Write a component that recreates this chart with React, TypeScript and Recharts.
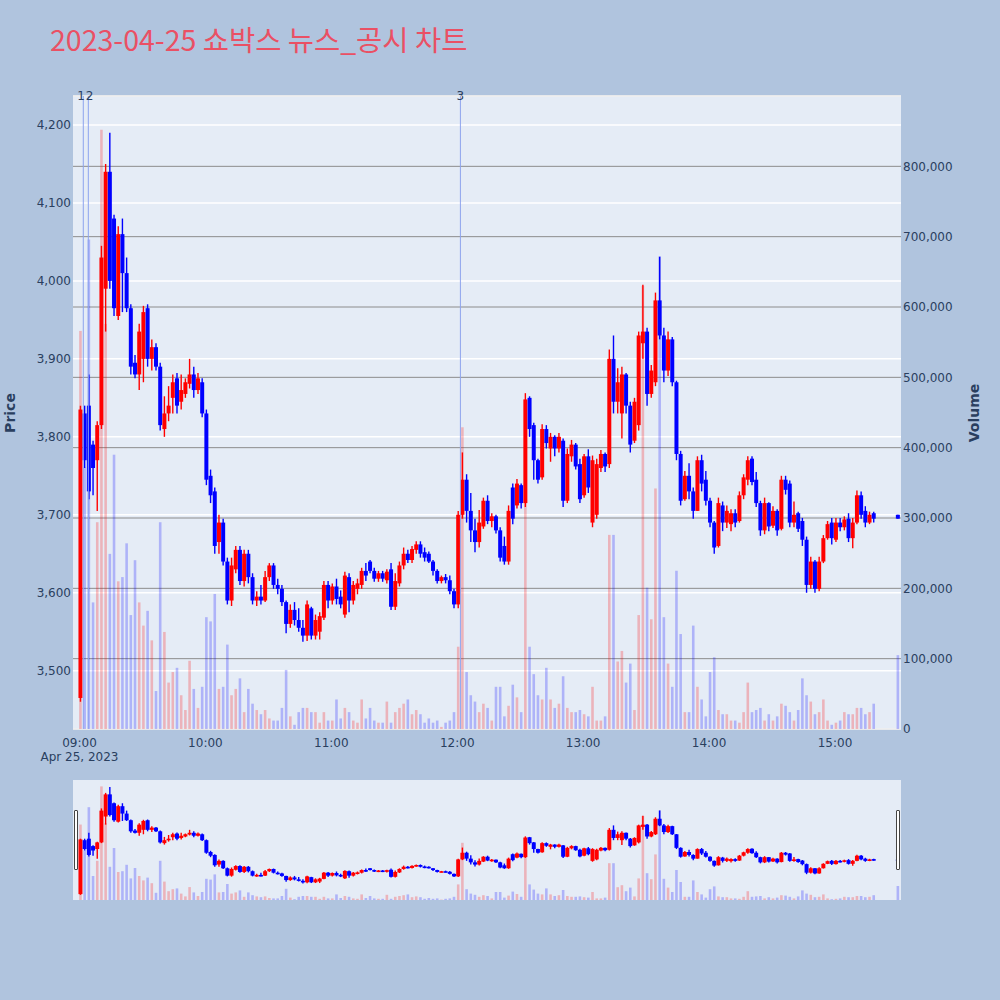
import React from 'react';
import { ComposedChart, Bar, XAxis, YAxis, CartesianGrid, ReferenceLine } from 'recharts';

// ---- Data (2-minute candles, last one = 15:30 closing auction) ----
const opens = [
  3465, 3830, 3840, 3790, 3770, 3815, 3990, 4140, 4080, 3955,
  4060, 4010, 3965, 3895, 3880, 3900, 3965, 3900, 3915, 3890,
  3810, 3830, 3850, 3875, 3845, 3855, 3868, 3880, 3860, 3870,
  3830, 3750, 3730, 3665, 3690, 3640, 3590, 3630, 3655, 3615,
  3650, 3620, 3590, 3595, 3590, 3620, 3635, 3610, 3605, 3588,
  3560, 3578, 3565, 3555, 3545, 3580, 3545, 3550, 3568, 3610,
  3590, 3608, 3595, 3572, 3620, 3590, 3605, 3610, 3628, 3640,
  3628, 3618, 3625, 3616, 3630, 3582, 3612, 3635, 3650, 3642,
  3655, 3662, 3652, 3650, 3640, 3628, 3615, 3620, 3616, 3602,
  3585, 3700, 3745, 3705, 3680, 3665, 3685, 3718, 3692, 3698,
  3680, 3660, 3640, 3735, 3712, 3738, 3715, 3850, 3815, 3770,
  3748, 3810, 3785, 3800, 3785, 3795, 3718, 3775, 3790, 3765,
  3725, 3775, 3690, 3700, 3760, 3778, 3765, 3900, 3845, 3830,
  3880, 3840, 3795, 3815, 3920, 3935, 3855, 3870, 3975, 3930,
  3885, 3925, 3870, 3778, 3720, 3750, 3730, 3705, 3770, 3745,
  3718, 3690, 3660, 3712, 3690, 3688, 3702, 3692, 3725, 3745,
  3772, 3745, 3715, 3680, 3715, 3686, 3705, 3682, 3745, 3740,
  3690, 3702, 3692, 3668, 3610, 3640, 3605, 3640, 3670, 3690,
  3668, 3690, 3684, 3695, 3670, 3690, 3725, 3705, 3690, 3702,
  3700,
];
const highs = [
  3840, 3840, 3880, 3795, 3820, 4045, 4150, 4190, 4085, 4070,
  4080, 4030, 3970, 3905, 3945, 3968, 3970, 3925, 3920, 3895,
  3852, 3865, 3880, 3882, 3880, 3875, 3900, 3890, 3882, 3875,
  3835, 3758, 3735, 3700, 3695, 3645, 3645, 3660, 3660, 3655,
  3655, 3625, 3602, 3610, 3628, 3638, 3638, 3618, 3610, 3590,
  3585, 3588, 3580, 3565, 3590, 3582, 3572, 3575, 3615, 3615,
  3612, 3618, 3603, 3627, 3625, 3615, 3618, 3632, 3638, 3642,
  3632, 3628, 3628, 3630, 3638, 3625, 3640, 3658, 3655, 3660,
  3666, 3666, 3658, 3653, 3642, 3630, 3622, 3624, 3622, 3605,
  3705, 3780, 3752, 3728, 3695, 3706, 3722, 3725, 3702, 3700,
  3684, 3672, 3712, 3740, 3746, 3740, 3856, 3852, 3818, 3772,
  3816, 3815, 3805, 3802, 3805, 3798, 3785, 3796, 3792, 3772,
  3778, 3784, 3776, 3772, 3783, 3780, 3912, 3930, 3888, 3890,
  3882, 3845, 3850, 3935, 3995, 3940, 3892, 3985, 4031, 3940,
  3935, 3928, 3872, 3782, 3756, 3766, 3735, 3775, 3777, 3756,
  3722, 3692, 3722, 3717, 3712, 3707, 3707, 3730, 3752, 3775,
  3775, 3755, 3718, 3722, 3716, 3711, 3707, 3750, 3750, 3744,
  3717, 3704, 3696, 3672, 3646, 3642, 3646, 3674, 3692, 3696,
  3696, 3696, 3698, 3702, 3696, 3731, 3730, 3711, 3704, 3704,
  3700,
];
const lows = [
  3460, 3760, 3720, 3725, 3705, 3810, 3935, 3990, 3955, 3950,
  3960, 3960, 3880, 3875, 3860, 3870, 3890, 3885, 3885, 3808,
  3800, 3820, 3830, 3830, 3835, 3850, 3862, 3850, 3855, 3825,
  3738, 3715, 3650, 3650, 3635, 3585, 3583, 3625, 3610, 3608,
  3612, 3585, 3583, 3585, 3588, 3615, 3605, 3598, 3583, 3548,
  3555, 3558, 3550, 3537, 3538, 3540, 3540, 3540, 3565, 3580,
  3585, 3585, 3580, 3568, 3575, 3585, 3598, 3605, 3615, 3625,
  3614, 3614, 3614, 3612, 3578, 3578, 3608, 3630, 3638, 3638,
  3650, 3645, 3640, 3638, 3622, 3612, 3612, 3612, 3598, 3580,
  3580, 3695, 3690, 3665, 3652, 3658, 3682, 3688, 3684, 3676,
  3640, 3636, 3636, 3688, 3708, 3708, 3710, 3800, 3745, 3740,
  3745, 3785, 3768, 3775, 3780, 3710, 3715, 3768, 3758, 3715,
  3722, 3728, 3684, 3695, 3755, 3755, 3760, 3830, 3830, 3798,
  3830, 3780, 3792, 3808, 3900, 3840, 3850, 3865, 3925, 3870,
  3878, 3865, 3770, 3712, 3718, 3720, 3695, 3705, 3730, 3712,
  3684, 3650, 3658, 3679, 3683, 3679, 3684, 3690, 3720, 3738,
  3738, 3710, 3673, 3675, 3679, 3683, 3673, 3680, 3726, 3684,
  3684, 3678, 3660, 3600, 3605, 3600, 3602, 3638, 3668, 3662,
  3665, 3679, 3680, 3665, 3657, 3688, 3695, 3684, 3688, 3690,
  3695,
];
const closes = [
  3835, 3770, 3730, 3760, 3815, 4030, 4140, 4000, 3965, 4060,
  4010, 3965, 3890, 3880, 3935, 3960, 3900, 3915, 3890, 3815,
  3830, 3840, 3870, 3840, 3860, 3870, 3880, 3860, 3875, 3830,
  3745, 3725, 3660, 3690, 3640, 3590, 3635, 3655, 3615, 3650,
  3620, 3590, 3595, 3590, 3620, 3635, 3610, 3605, 3588, 3560,
  3578, 3565, 3555, 3545, 3585, 3545, 3565, 3570, 3610, 3590,
  3608, 3592, 3585, 3622, 3590, 3610, 3612, 3628, 3622, 3628,
  3618, 3625, 3618, 3627, 3582, 3615, 3635, 3650, 3642, 3656,
  3662, 3650, 3645, 3640, 3628, 3615, 3620, 3616, 3602, 3585,
  3700, 3745, 3705, 3680, 3665, 3690, 3718, 3692, 3698, 3680,
  3645, 3640, 3705, 3695, 3740, 3715, 3848, 3810, 3770, 3745,
  3810, 3792, 3800, 3785, 3800, 3718, 3778, 3790, 3762, 3720,
  3775, 3735, 3770, 3765, 3778, 3762, 3900, 3845, 3870, 3880,
  3840, 3790, 3845, 3930, 3935, 3855, 3885, 3975, 3930, 3885,
  3925, 3870, 3778, 3718, 3750, 3730, 3705, 3770, 3740, 3718,
  3690, 3658, 3715, 3690, 3705, 3702, 3690, 3725, 3748, 3770,
  3742, 3715, 3680, 3715, 3685, 3705, 3680, 3745, 3732, 3690,
  3700, 3682, 3668, 3610, 3640, 3605, 3640, 3670, 3688, 3670,
  3690, 3684, 3694, 3670, 3690, 3725, 3700, 3690, 3700, 3695,
  3695,
];
// volume in thousands of shares
const volumeK = [
  566, 372, 696, 180, 294, 852, 576, 249, 390, 210,
  216, 264, 162, 240, 180, 147, 168, 126, 54, 294,
  138, 66, 81, 87, 48, 27, 97, 57, 30, 60,
  159, 153, 192, 57, 60, 120, 48, 57, 72, 24,
  57, 36, 27, 21, 27, 15, 12, 12, 30, 84,
  18, 6, 24, 30, 30, 24, 24, 9, 24, 12,
  12, 42, 15, 30, 24, 12, 9, 42, 15, 30,
  12, 9, 9, 39, 9, 24, 30, 36, 42, 21,
  27, 21, 9, 15, 9, 12, 3, 9, 12, 24,
  117, 429, 81, 48, 39, 24, 36, 30, 12, 60,
  60, 18, 33, 63, 45, 24, 324, 117, 78, 48,
  42, 87, 42, 30, 36, 75, 30, 24, 24, 27,
  21, 18, 60, 12, 12, 18, 276, 276, 96, 111,
  66, 93, 27, 162, 630, 201, 156, 342, 672, 159,
  93, 60, 225, 135, 24, 24, 147, 60, 42, 18,
  81, 102, 27, 21, 21, 12, 12, 9, 24, 66,
  24, 27, 30, 12, 21, 12, 18, 36, 33, 24,
  12, 27, 72, 48, 39, 21, 24, 42, 12, 6,
  9, 12, 24, 21, 21, 30, 30, 21, 24, 36,
  105,
];

// time axis: minutes after 09:00
const BUCKET_MINUTES = 2;
const CLOSING_AUCTION_MINUTE = 390;
const timeTicks = [0, 60, 120, 180, 240, 300, 360];
const timeTickLabels = ['09:00', '10:00', '11:00', '12:00', '13:00', '14:00', '15:00'];
const dateLabel = 'Apr 25, 2023';

const priceTicks = [3500, 3600, 3700, 3800, 3900, 4000, 4100, 4200];
const volumeTicksK = [0, 100, 200, 300, 400, 500, 600, 700, 800];
const volumeTickLabels = ['0', '100,000', '200,000', '300,000', '400,000', '500,000', '600,000', '700,000', '800,000'];

const newsMinutes = [1.8, 4.2, 181.5];
const newsLabels = ['1', '2', '3'];
// labels 1 and 2 sit side by side ("12"), so they are anchored away from each other
const newsLabelAnchors = ['end', 'start', 'middle'];

const titleText = '2023-04-25 쇼박스 뉴스_공시 차트';

// ---- styling ----
const X_DOMAIN: [number, number] = [-3.1, 391.45];
const PRICE_DOMAIN: [number, number] = [3425.2, 4237.2];
const VOL_DOMAIN: [number, number] = [0, 900];
const RED = '#ff0000';
const BLUE = '#0000ff';
const TICK = '#2a3f5f';
const PLOT_BG = '#E5ECF6';
const PAGE_BG = '#B0C4DE';
const FONT = "'DejaVu Sans', Verdana, sans-serif";

const rows = opens.map((o, i) => {
  const isClose = i === opens.length - 1;
  return {
    t: isClose ? CLOSING_AUCTION_MINUTE : i * BUCKET_MINUTES + 0.5,
    open: o,
    high: highs[i],
    low: lows[i],
    close: closes[i],
    vol: volumeK[i],
    range: [lows[i], highs[i]],
  };
});

function CandleShape(props: any) {
  const { x, y, width, height } = props;
  const p = props.payload || props;
  if (x == null || y == null) return null;
  const top = Math.min(y, y + height);
  const bot = Math.max(y, y + height);
  const k = (bot - top) / (p.high - p.low || 1);
  const cx = x + width / 2;
  const yO = top + (p.high - p.open) * k;
  const yC = top + (p.high - p.close) * k;
  const color = p.close >= p.open ? RED : BLUE;
  const bTop = Math.min(yO, yC);
  const bH = Math.max(Math.abs(yO - yC), 1.6);
  return (
    <g>
      <line x1={cx} x2={cx} y1={top} y2={bot} stroke={color} strokeWidth={1.4} />
      <rect x={cx - 2} y={bTop} width={4} height={bH} fill={color} />
    </g>
  );
}

function VolumeShape(props: any) {
  const { x, y, width, height } = props;
  const p = props.payload || props;
  if (x == null || y == null) return null;
  const top = Math.min(y, y + height);
  const h = Math.abs(height);
  const cx = x + width / 2;
  const color = p.close >= p.open ? RED : BLUE;
  return <rect x={cx - 1.3} y={top} width={2.6} height={h} fill={color} fillOpacity={0.24} />;
}

function TimeTick(props: any) {
  const { x, y, payload } = props;
  const idx = timeTicks.indexOf(payload.value);
  return (
    <g>
      <text x={x} y={y + 18} textAnchor="middle" fill={TICK} fontSize={12} fontFamily={FONT}>
        {timeTickLabels[idx]}
      </text>
      {idx === 0 && (
        <text x={x} y={y + 31.5} textAnchor="middle" fill={TICK} fontSize={12} fontFamily={FONT}>
          {dateLabel}
        </text>
      )}
    </g>
  );
}

function NewsLabel(props: any) {
  const vb = props.viewBox || {};
  const anchor = props.anchor || 'middle';
  const dx = anchor === 'end' ? 1.6 : anchor === 'start' ? -2.6 : 0;
  return (
    <text x={(vb.x || 0) + dx} y={(vb.y || 0) + 4} textAnchor={anchor} fill={TICK} fontSize={12} fontFamily={FONT}>
      {props.text}
    </text>
  );
}

export default function App() {
  return (
    <div
      style={{
        position: 'absolute',
        left: 0,
        top: 0,
        width: 1000,
        height: 1000,
        background: PAGE_BG,
        overflow: 'hidden',
        fontFamily: FONT,
      }}
    >
      {/* range slider (drawn first so the main chart's date label stays visible) */}
      <div style={{ position: 'absolute', left: 73, top: 780, width: 828, height: 120, background: PLOT_BG }}>
        <ComposedChart width={828} height={120} data={rows} margin={{ top: 0, right: 0, bottom: 0, left: 0 }}>
          <XAxis xAxisId="t" dataKey="t" type="number" domain={X_DOMAIN} allowDataOverflow hide height={0} />
          <XAxis xAxisId="c" dataKey="t" type="number" domain={X_DOMAIN} allowDataOverflow hide height={0} />
          <YAxis yAxisId="price" type="number" domain={PRICE_DOMAIN} allowDataOverflow hide width={0} />
          <YAxis yAxisId="vol" type="number" domain={VOL_DOMAIN} allowDataOverflow hide width={0} />
          <Bar xAxisId="t" yAxisId="vol" dataKey="vol" barSize={4} shape={VolumeShape} isAnimationActive={false} />
          <Bar xAxisId="c" yAxisId="price" dataKey="range" barSize={4} shape={CandleShape} isAnimationActive={false} />
        </ComposedChart>
      </div>
      <div style={{ position: 'absolute', left: 74, top: 810, width: 2, height: 58, background: '#fff', border: '1px solid #444', borderRadius: 1 }} />
      <div style={{ position: 'absolute', left: 896, top: 810, width: 2, height: 58, background: '#fff', border: '1px solid #444', borderRadius: 1 }} />

      <div style={{ position: 'absolute', left: 0, top: 0 }}>
        <ComposedChart width={1000} height={780} data={rows} margin={{ top: 96, right: 0, bottom: 0, left: 0 }}>
          <CartesianGrid xAxisId="t" yAxisId="vol" vertical={false} stroke="#8c8c8c" strokeWidth={1} fill={PLOT_BG} fillOpacity={1} />
          <CartesianGrid xAxisId="t" yAxisId="price" vertical={false} stroke="#ffffff" strokeWidth={1.5} />
          <XAxis
            xAxisId="t"
            dataKey="t"
            type="number"
            domain={X_DOMAIN}
            allowDataOverflow
            ticks={timeTicks}
            interval={0}
            tick={<TimeTick />}
            tickSize={0}
            tickMargin={0}
            axisLine={false}
            tickLine={false}
            height={51}
          />
          <XAxis xAxisId="c" dataKey="t" type="number" domain={X_DOMAIN} allowDataOverflow hide height={0} />
          <YAxis
            yAxisId="price"
            orientation="left"
            type="number"
            domain={PRICE_DOMAIN}
            allowDataOverflow
            ticks={priceTicks}
            interval={0}
            width={73}
            tickSize={0}
            tickMargin={2}
            axisLine={false}
            tickLine={false}
            tick={{ fill: TICK, fontSize: 12, fontFamily: FONT }}
            tickFormatter={(v: number) => v.toLocaleString('en-US')}
          />
          <YAxis
            yAxisId="vol"
            orientation="right"
            type="number"
            domain={VOL_DOMAIN}
            allowDataOverflow
            ticks={volumeTicksK}
            interval={0}
            width={99}
            tickSize={0}
            tickMargin={2}
            axisLine={false}
            tickLine={false}
            tick={{ fill: TICK, fontSize: 12, fontFamily: FONT }}
            tickFormatter={(v: number) => volumeTickLabels[volumeTicksK.indexOf(v)]}
          />
          {newsMinutes.map((m, i) => (
            <ReferenceLine
              key={'news' + i}
              xAxisId="t"
              yAxisId="price"
              x={m}
              stroke="#8da4ee"
              strokeWidth={1}
              label={<NewsLabel text={newsLabels[i]} anchor={newsLabelAnchors[i]} />}
            />
          ))}
          <Bar xAxisId="t" yAxisId="vol" dataKey="vol" barSize={4} shape={VolumeShape} isAnimationActive={false} />
          <Bar xAxisId="c" yAxisId="price" dataKey="range" barSize={4} shape={CandleShape} isAnimationActive={false} />
        </ComposedChart>
      </div>

      {/* title and axis titles */}
      <svg width={1000} height={1000} style={{ position: 'absolute', left: 0, top: 0, pointerEvents: 'none' }}>
        <text x={50} y={51} fontSize={28.5} fill="#EA5064" fontFamily="'Noto Sans CJK KR', 'Noto Sans', sans-serif">
          {titleText}
        </text>
        <text transform="translate(14.5,413) rotate(-90)" textAnchor="middle" fontSize={14} fontWeight="bold" fill={TICK} fontFamily={FONT}>
          Price
        </text>
        <text transform="translate(978.5,413) rotate(-90)" textAnchor="middle" fontSize={14} fontWeight="bold" fill={TICK} fontFamily={FONT}>
          Volume
        </text>
      </svg>
    </div>
  );
}
